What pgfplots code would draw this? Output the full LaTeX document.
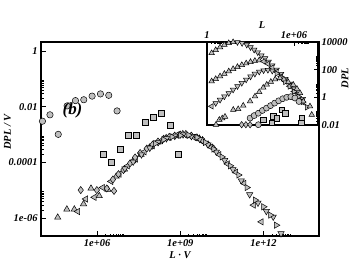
\documentclass[border=0pt]{standalone}
\usepackage{fontspec}
\setmainfont{Liberation Serif}
\usepackage{pgfplots}
\pgfplotsset{compat=1.18}
\tikzset{lab/.style={font=\fontsize{10.5}{12}\selectfont\bfseries\itshape}}
\begin{document}
\begin{tikzpicture}
\useasboundingbox (0bp,0bp) rectangle (359bp,278bp);
\pgfplotsset{
 mc/.style={only marks, mark=*, mark size=3.2bp, mark options={fill=black!25, draw=black, line width=0.5bp}},
 ms/.style={only marks, mark=square*, mark size=3.0bp, mark options={fill=black!25, draw=black, line width=0.5bp}},
 md/.style={only marks, mark=diamond*, mark size=3.6bp, mark options={fill=black!25, draw=black, line width=0.5bp}},
 tu/.style={only marks, mark=triangle*, mark size=3.6bp, mark options={fill=black!25, draw=black, line width=0.5bp}},
 td/.style={only marks, mark=triangle*, mark size=3.6bp, mark options={fill=black!25, draw=black, line width=0.5bp, rotate=180}},
 tl/.style={only marks, mark=triangle*, mark size=3.6bp, mark options={fill=black!25, draw=black, line width=0.5bp, rotate=90}},
 tr/.style={only marks, mark=triangle*, mark size=3.6bp, mark options={fill=black!25, draw=black, line width=0.5bp, rotate=270}},
}
\begin{axis}[
 at={(41bp,42bp)}, anchor=south west, scale only axis, width=278bp, height=194bp,
 xmode=log, ymode=log, xmin=9.5e3, xmax=1e14, ymin=2.3e-7, ymax=2.1,
 xtick={1e6,1e9,1e12}, xticklabels={1e+06,1e+09,1e+12},
 minor xtick={2e6,3e6,4e6,5e6,6e6,7e6,8e6,9e6,2e9,3e9,4e9,5e9,6e9,7e9,8e9,9e9,2e12,3e12,4e12,5e12,6e12,7e12,8e12,9e12},
 ytick={1e-6,1e-4,1e-2,1}, yticklabels={1e-06,0.0001,0.01,1},
 minor ytick={2e-6,3e-6,4e-6,5e-6,6e-6,7e-6,8e-6,9e-6,2e-4,3e-4,4e-4,5e-4,6e-4,7e-4,8e-4,9e-4,2e-2,3e-2,4e-2,5e-2,6e-2,7e-2,8e-2,9e-2},
 tick pos=left, tick align=inside, major tick length=5bp, minor tick length=2.5bp,
 every tick/.style={black, line width=0.6bp},
 axis line style={line width=1.1bp},
 ticklabel style={font=\fontsize{10.5}{12}\selectfont\bfseries\itshape},
]
\addplot[mc] coordinates {(1.07e4,3.02e-3) (2.00e4,5.13e-3) (3.98e4,1.02e-3) (8.32e4,1.07e-2) (1.66e5,1.66e-2) (3.31e5,1.78e-2) (6.61e5,2.40e-2) (1.32e6,2.88e-2) (2.63e6,2.57e-2) (5.25e6,7.08e-3)};
\addplot[ms] coordinates {(1.66e6,2.0e-4) (3.3e6,1.0e-4) (6.6e6,3.0e-4) (1.32e7,9.8e-4) (2.63e7,9.1e-4) (5.25e7,2.7e-3) (1.05e8,4.1e-3) (2.1e8,6.0e-3) (4.2e8,2.1e-3) (8.4e8,2.0e-4)};
\addplot[tu] coordinates {(3.80e4,1.07e-6) (8.13e4,2.09e-6) (1.51e5,2.09e-6) (3.24e5,3.24e-6) (6.03e5,1.17e-5) (1.20e6,6.31e-6) (2.45e6,1.07e-5) (4.90e6,3.16e-5) (9.77e6,5.62e-5) (1.95e7,1.12e-4) (3.89e7,1.91e-4) (7.76e7,3.47e-4) (1.55e8,5.25e-4) (3.09e8,7.59e-4) (6.17e8,8.91e-4) (1.23e9,1.05e-3) (2.45e9,8.91e-4) (4.90e9,7.24e-4)};
\addplot[tl] coordinates {(2.00e5,1.74e-6) (3.89e5,4.90e-6) (7.94e5,5.62e-6) (1.58e6,1.26e-5) (3.16e6,2.09e-5) (6.31e6,3.80e-5) (1.26e7,7.59e-5) (2.51e7,1.32e-4) (5.01e7,2.40e-4) (1.00e8,3.98e-4) (2.00e8,6.03e-4) (3.98e8,7.94e-4) (7.94e8,1.00e-3) (1.58e9,9.55e-4) (3.16e9,7.94e-4) (6.31e9,5.62e-4) (1.26e10,3.55e-4) (2.51e10,1.91e-4) (5.01e10,8.91e-5) (1.00e11,4.47e-5) (2.00e11,1.78e-5) (4.37e11,2.95e-6) (8.32e11,7.41e-7)};
\addplot[md] coordinates {(2.57e5,1.02e-5) (9.77e5,1.02e-5) (2.24e6,1.17e-5) (4.07e6,9.55e-6) (3.72e6,2.45e-5) (5.89e6,3.80e-5) (8.91e6,5.37e-5) (1.55e7,9.33e-5) (2.34e7,1.51e-4) (3.55e7,2.19e-4) (6.17e7,3.16e-4) (1.00e8,4.37e-4) (1.58e8,5.62e-4) (2.51e8,7.08e-4) (3.98e8,8.32e-4) (6.31e8,9.12e-4) (1.00e9,1.00e-3) (1.58e9,1.05e-3) (2.51e9,9.12e-4) (3.98e9,7.94e-4) (6.31e9,6.31e-4) (1.00e10,4.47e-4) (1.58e10,3.16e-4)};
\addplot[td] coordinates {(1.00e7,6.03e-5) (2.00e7,1.05e-4) (3.98e7,1.91e-4) (7.94e7,3.31e-4) (1.58e8,5.25e-4) (3.16e8,7.24e-4) (6.31e8,8.91e-4) (1.26e9,1.00e-3) (2.51e9,8.71e-4) (5.01e9,6.92e-4) (1.00e10,4.37e-4) (2.00e10,2.40e-4) (3.98e10,1.20e-4) (7.94e10,5.62e-5) (1.58e11,2.24e-5) (3.16e11,7.08e-6) (6.31e11,3.55e-6) (1.26e12,1.78e-6) (2.24e12,1.12e-6) (4.27e12,2.82e-7)};
\addplot[tr] coordinates {(1.26e8,4.79e-4) (2.51e8,6.61e-4) (5.01e8,8.32e-4) (1.00e9,9.33e-4) (2.00e9,9.55e-4) (3.98e9,7.94e-4) (7.94e9,5.25e-4) (1.58e10,3.02e-4) (3.16e10,1.58e-4) (6.31e10,7.59e-5) (1.26e11,3.55e-5) (2.51e11,1.26e-5) (5.01e11,4.47e-6) (1.00e12,2.57e-6) (1.78e12,1.29e-6) (2.88e12,5.62e-7)};
\end{axis}
\node[lab] at (180bp,23bp) {L · V};
\node[lab, rotate=90] at (7.5bp,146bp) {DPL / V};
\node[font=\fontsize{17}{20}\selectfont\bfseries\itshape] at (72.5bp,168bp) {(b)};
\begin{axis}[
 at={(207bp,153bp)}, anchor=south west, scale only axis, width=111bp, height=83bp,
 xmode=log, ymode=log, xmin=1, xmax=4.5e7, ymin=0.01, ymax=1e4,
 axis background/.style={fill=white},
 tick pos=right, xticklabel pos=right, yticklabel pos=right,
 xtick={1,1e6}, xticklabels={1,1e+06},
 minor xtick={2,3,4,5,6,7,8,9,2e6,3e6,4e6,5e6,6e6,7e6,8e6,9e6},
 ytick={0.01,1,100,10000}, yticklabels={0.01,1,100,10000},
 minor ytick={0.02,0.03,0.04,0.05,0.06,0.07,0.08,0.09,2,3,4,5,6,7,8,9,200,300,400,500,600,700,800,900},
 tick align=inside, major tick length=4bp, minor tick length=2bp,
 every tick/.style={black, line width=0.6bp},
 axis line style={line width=1.1bp},
 ticklabel style={font=\fontsize{10.5}{12}\selectfont\bfseries\itshape},
]
\addplot[tu, mark size=3.2bp] coordinates {(2.09,1585) (3.98,2630) (7.94,4169) (15.8,6310) (31.6,8318) (63.1,9772)};
\addplot[td, mark size=3.2bp] coordinates {(126,9772) (263,8318) (550,6310) (1000,4169) (1778,2754) (3162,1778) (5623,1072) (1e4,661) (1.78e4,380) (3.16e4,200) (6.31e4,100) (1.26e5,47.9) (2.51e5,21.4) (5.01e5,9.55) (1e6,4.17) (2.0e6,1.78) (3.98e6,0.759)};
\addplot[tu, mark size=3.2bp] coordinates {(2.09,14.5) (3.98,21.4) (7.94,33.1) (15.8,50.1) (31.6,75.9) (63.1,112) (126,158) (251,219) (501,288) (1000,363) (2000,437) (3981,479)};
\addplot[tl, mark size=3.2bp] coordinates {(7943,398) (1.58e4,263) (3.16e4,141) (6.31e4,70.8) (1.26e5,31.6) (2.51e5,14.1) (5.01e5,6.31) (1e6,2.63) (2.0e6,1.12) (3.98e6,0.447)};
\addplot[td, mark size=3.2bp] coordinates {(3.98,0.380) (7.94,0.661) (15.8,1.15) (31.6,2.0) (63.1,3.55) (126,6.31) (251,11.0) (501,19.1) (1000,31.6) (2000,50.1) (3981,70.8) (7943,89.1) (1.58e4,95.5) (3.16e4,83.2)};
\addplot[tl, mark size=3.2bp] coordinates {(2.09,0.224)};
\addplot[tr, mark size=3.2bp] coordinates {(6.31e4,52.5) (1.26e5,28.2) (2.51e5,13.2) (5.01e5,6.03) (1e6,2.63) (2.0e6,1.12) (3.98e6,0.468) (7.94e6,0.191)};
\addplot[tu, mark size=3.2bp] coordinates {(64.6,0.126) (141,0.141) (316,0.251) (933,0.513) (2042,1.17) (3981,2.40) (7586,5.01) (1.32e4,8.32) (2.51e4,13.2) (5.01e4,20.0) (1.07e5,24.5) (2.0e5,20.0) (3.98e5,12.6) (8.91e5,8.13) (1.58e6,4.17) (2.57e6,2.04) (4.37e6,0.513) (1.26e7,0.224) (1.66e7,0.055)};
\addplot[tu, mark size=3.2bp] coordinates {(4.17,0.0105) (7.08,0.024) (11.2,0.0302) (17.4,0.0398)};
\addplot[mc, mark size=3bp] coordinates {(933,0.0316) (1778,0.0479) (3467,0.0708) (6607,0.112) (1.26e4,0.166) (2.40e4,0.251) (4.57e4,0.380) (8.71e4,0.562) (1.66e5,0.794) (3.16e5,1.0) (6.03e5,1.12) (1.15e6,0.891) (2.19e6,0.501) (3467,0.0105)};
\addplot[ms, mark size=2.8bp] coordinates {(7586,0.024) (2.88e4,0.0141) (3.72e4,0.0427) (6.31e4,0.0316) (1.41e5,0.126) (2.40e5,0.0741) (3.39e6,0.0316) (3.16e6,0.0141)};
\addplot[md, mark size=3.2bp] coordinates {(245,0.0105) (479,0.0105) (933,0.0105)};
\end{axis}
\node[lab] at (262bp,253bp) {L};
\node[lab, rotate=90] at (345bp,200bp) {DPL};
\end{tikzpicture}
\end{document}
